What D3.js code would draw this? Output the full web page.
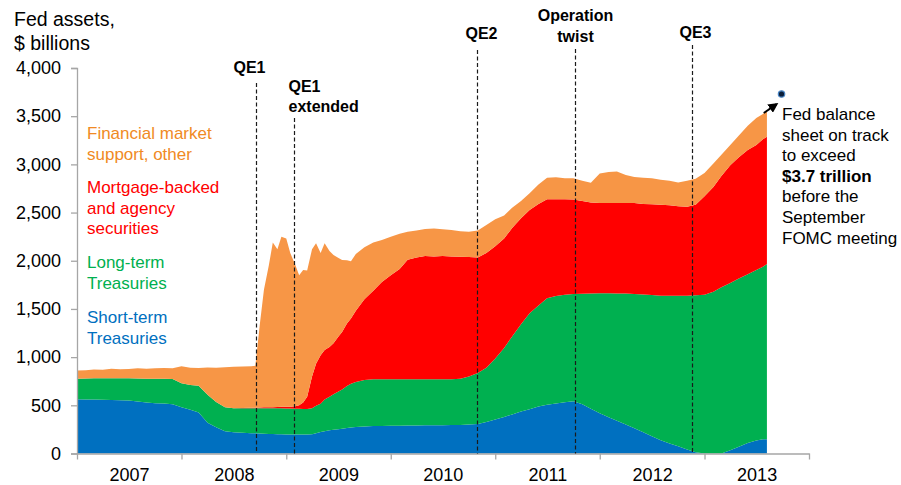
<!DOCTYPE html>
<html>
<head>
<meta charset="utf-8">
<script src="https://cdn.jsdelivr.net/npm/d3@7"></script>
<style>
  body { margin: 0; background: #fff; }
  svg { font-family: "Liberation Sans", Arial, sans-serif; }
</style>
</head>
<body>
<script>
// data, $ billions (layer values, stacked bottom to top)
var dates = ["2007-01-01","2007-02-01","2007-03-01","2007-04-01","2007-05-01","2007-06-01","2007-07-01","2007-08-01","2007-09-01","2007-10-01","2007-11-01","2007-12-01",
  "2008-01-01","2008-02-01","2008-03-01","2008-04-01","2008-05-01","2008-06-01","2008-07-01","2008-08-01","2008-09-01","2008-09-15","2008-10-01","2008-10-15","2008-11-01","2008-11-15","2008-12-01","2008-12-15",
  "2009-01-01","2009-01-15","2009-02-01","2009-02-15","2009-03-01","2009-03-15","2009-04-01","2009-04-15","2009-05-01","2009-05-15","2009-06-01","2009-06-15","2009-07-01","2009-07-15","2009-08-01","2009-08-15","2009-09-01","2009-10-01","2009-11-01","2009-12-01",
  "2010-01-01","2010-02-01","2010-03-01","2010-04-01","2010-05-01","2010-06-01","2010-07-01","2010-08-01","2010-09-01","2010-10-01","2010-11-01","2010-12-01",
  "2011-01-01","2011-02-01","2011-03-01","2011-04-01","2011-05-01","2011-06-01","2011-07-01","2011-08-01","2011-09-01","2011-10-01","2011-11-01","2011-12-01",
  "2012-01-01","2012-02-01","2012-03-01","2012-04-01","2012-05-01","2012-06-01","2012-07-01","2012-08-01","2012-09-01","2012-10-01","2012-11-01","2012-12-01",
  "2013-01-01","2013-02-01","2013-03-01","2013-04-01","2013-05-01","2013-06-01","2013-07-01","2013-07-24","2013-08-07"];

var shortTerm = [562,561,560,558,556,553,550,540,530,522,518,510,
  480,455,425,320,272,232,220,215,210,209,207,205,203,202,200,199,
  198,197,197,197,197,198,200,210,222,232,240,246,252,258,265,270,276,281,285,286,
  288,289,290,291,292,293,294,295,297,300,305,328,
  352,380,405,435,460,488,505,520,532,543,511,465,
  418,377,340,302,262,220,180,138,105,74,42,14,
  0,0,0,35,70,110,135,147,147];

var longTerm = [213,217,220,224,226,229,230,238,246,253,257,264,
  248,256,277,290,263,248,250,255,260,261,263,265,267,268,269,270,
  270,269,268,267,266,265,270,285,293,328,350,369,388,407,435,455,467,481,485,484,
  482,481,480,479,478,477,476,475,478,500,530,562,
  633,715,810,905,995,1047,1105,1115,1116,1112,1147,1195,
  1244,1285,1320,1358,1393,1430,1465,1500,1531,1562,1596,1628,
  1648,1678,1724,1734,1745,1750,1770,1791,1819];

var mbs = [0,0,0,0,0,0,0,0,0,0,0,0,
  0,0,0,0,0,0,0,2,4,6,8,9,10,11,14,15,
  17,20,25,36,67,127,330,435,505,514,515,530,570,595,650,675,737,838,920,1010,
  1080,1145,1240,1265,1278,1275,1278,1275,1267,1240,1200,1190,
  1165,1135,1125,1100,1072,1055,1028,1003,990,980,962,945,
  938,938,938,940,943,940,940,942,939,929,922,938,
  1022,1087,1156,1221,1260,1290,1295,1322,1321];

var other = [85,87,92,88,98,93,98,107,104,110,113,110,
  177,179,186,282,355,415,430,430,431,434,872,1221,1470,1709,1637,1766,
  1747,1594,1470,1350,1375,1310,1320,1251,1060,1107,995,915,820,748,655,595,590,540,500,435,
  400,365,290,280,282,290,280,273,263,260,280,290,
  280,240,210,180,173,200,222,228,218,221,210,205,
  305,320,327,290,272,270,270,260,255,247,270,270,
  240,245,220,210,225,250,280,263,277];

var seriesKeys = ["shortTerm", "longTerm", "mbs", "other"];
var seriesColors = ["#0070C0", "#00B050", "#FF0000", "#F79646"];
var legendColors = ["#0070C0", "#00B050", "#FF0000", "#F08A24"];
var legendLines = [["Short-term", "Treasuries"], ["Long-term", "Treasuries"],
  ["Mortgage-backed", "and agency", "securities"], ["Financial market", "support, other"]];
var legendTop = [323, 268, 193, 139];

var yTicks = [0, 500, 1000, 1500, 2000, 2500, 3000, 3500, 4000];
var years = [2007, 2008, 2009, 2010, 2011, 2012, 2013];

var events = [
  { date: "2008-09-17", lines: ["QE1"], anchor: "middle", lx: -7, ly: [73], top: 83 },
  { date: "2009-01-29", lines: ["QE1", "extended"], anchor: "start", lx: -6, ly: [92, 112], top: 118 },
  { date: "2010-10-29", lines: ["QE2"], anchor: "middle", lx: 4, ly: [39], top: 50 },
  { date: "2011-10-07", lines: ["Operation", "twist"], anchor: "middle", lx: 0, ly: [21, 42], top: 49 },
  { date: "2012-11-17", lines: ["QE3"], anchor: "middle", lx: 3, ly: [38], top: 45 }
];

var note = ["Fed balance", "sheet on track", "to exceed", "$3.7 trillion", "before the", "September", "FOMC meeting"];

d3.select("body").append("svg")
  .attr("width", 901)
  .attr("height", 485);

var svg = d3.select("svg");

var margin = { top: 68, left: 77 };
var width = 732;
var height = 385.5;

var parseDate = d3.timeParse("%Y-%m-%d");

var table = dates.map(function(d, i) {
  return { date: parseDate(d), shortTerm: shortTerm[i], longTerm: longTerm[i], mbs: mbs[i], other: other[i] };
});

var xScale = d3.scaleTime()
  .domain([new Date(2007, 0, 1), new Date(2014, 0, 1)])
  .range([margin.left, margin.left + width]);
var yScale = d3.scaleLinear()
  .domain([0, 4000])
  .range([margin.top + height, margin.top]);

var stacked = d3.stack().keys(seriesKeys)(table);

var area = d3.area()
  .x(function(d) { return xScale(d.data.date); })
  .y0(function(d) { return yScale(d[0]); })
  .y1(function(d) { return yScale(d[1]); });

svg.append("g").selectAll("path")
  .data(stacked)
  .enter().append("path")
  .attr("d", area)
  .attr("fill", function(d, i) { return seriesColors[i]; });

// axes
var axisColor = "#A6A6A6";

var yAxis = svg.append("g")
  .attr("transform", "translate(" + margin.left + ",0)")
  .call(d3.axisLeft(yScale).tickValues(yTicks).tickFormat(d3.format(",")).tickSize(6).tickPadding(10));

var xAxis = svg.append("g")
  .attr("transform", "translate(0," + (margin.top + height) + ")")
  .call(d3.axisBottom(xScale)
    .tickValues(years.concat([2014]).map(function(y) { return new Date(y, 0, 1); }))
    .tickFormat("").tickSize(6).tickSizeOuter(0));

var xLabels = svg.append("g")
  .attr("transform", "translate(0," + (margin.top + height) + ")")
  .call(d3.axisBottom(xScale)
    .tickValues(years.map(function(y) { return new Date(y, 6, 2); }))
    .tickFormat(d3.timeFormat("%Y")).tickSize(0).tickPadding(15));
xLabels.select(".domain").remove();

[yAxis, xAxis].forEach(function(a) {
  a.selectAll(".domain, line").attr("stroke", axisColor).attr("stroke-width", 1.3);
});
[yAxis, xLabels].forEach(function(a) {
  a.selectAll("text").attr("fill", "#000").style("font-size", "18px").style("font-family", "Liberation Sans, Arial, sans-serif");
});

// title
svg.append("text").attr("x", 14).attr("y", 26).style("font-size", "19.5px").text("Fed assets,");
svg.append("text").attr("x", 14).attr("y", 50).style("font-size", "19.5px").text("$ billions");

// legend labels
legendLines.forEach(function(lines, i) {
  lines.forEach(function(t, j) {
    svg.append("text")
      .attr("x", 87)
      .attr("y", legendTop[i] + j * 20.5)
      .attr("fill", legendColors[i])
      .style("font-size", "17px")
      .text(t);
  });
});

// event lines
events.forEach(function(e) {
  var ex = Math.round(xScale(parseDate(e.date))) + 0.5;
  svg.append("line")
    .attr("x1", ex).attr("x2", ex)
    .attr("y1", e.top).attr("y2", yScale(0))
    .attr("stroke", "#1a1a1a")
    .attr("stroke-width", 1.2)
    .attr("stroke-dasharray", "4,2.5");
  e.lines.forEach(function(t, j) {
    svg.append("text")
      .attr("x", ex + e.lx)
      .attr("y", e.ly[j])
      .attr("text-anchor", e.anchor)
      .style("font-size", "16px")
      .style("font-weight", "bold")
      .text(t);
  });
});

// annotation
svg.append("defs").append("marker")
  .attr("id", "arrow")
  .attr("viewBox", "0 0 10 10")
  .attr("refX", 8).attr("refY", 5)
  .attr("markerWidth", 5).attr("markerHeight", 5)
  .attr("orient", "auto")
  .append("path").attr("d", "M0,0L10,5L0,10z").attr("fill", "#000");

svg.append("line")
  .attr("x1", xScale(parseDate("2013-07-27"))).attr("y1", yScale(3533))
  .attr("x2", xScale(parseDate("2013-09-10"))).attr("y2", yScale(3625))
  .attr("stroke", "#000").attr("stroke-width", 2)
  .attr("marker-end", "url(#arrow)");

svg.append("circle")
  .attr("cx", xScale(parseDate("2013-09-27"))).attr("cy", yScale(3730))
  .attr("r", 3.2)
  .attr("fill", "#0b1f3a")
  .attr("stroke", "#4a86c5").attr("stroke-width", 1.2);

note.forEach(function(t, i) {
  svg.append("text")
    .attr("x", 782)
    .attr("y", 120 + i * 20.6)
    .style("font-size", "17px")
    .style("font-weight", i === 3 ? "bold" : "normal")
    .text(t);
});
</script>
</body>
</html>
